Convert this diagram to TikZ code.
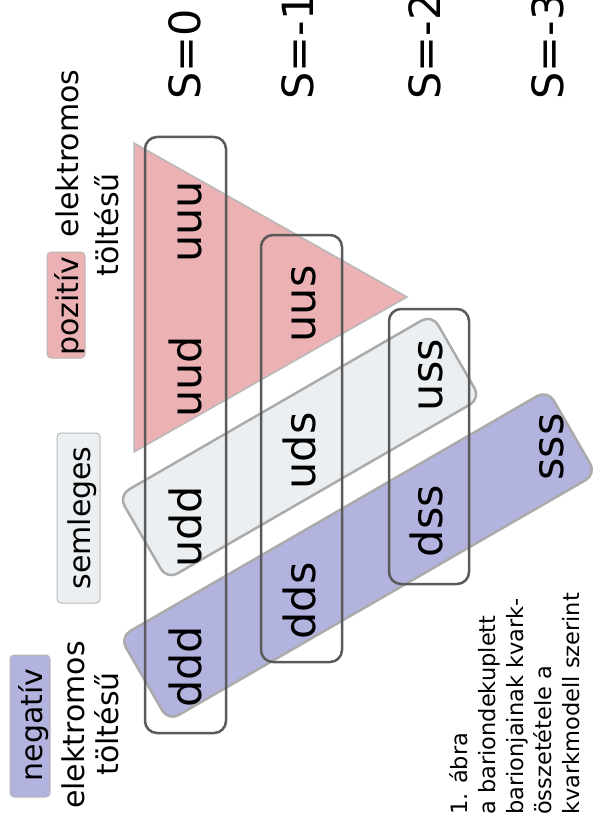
\documentclass[tikz,border=0pt]{standalone}
\usepackage{fontspec}
\setmainfont{DejaVu Sans}
\definecolor{pinkc}{HTML}{EBB1B3}
\definecolor{bluec}{HTML}{B3B3E0}
\definecolor{semc}{HTML}{ECEFF1}
\definecolor{bandgray}{HTML}{ABABAB}
\definecolor{boxgray}{HTML}{5A5A5A}
\definecolor{hlgray}{HTML}{B8B8B8}
\begin{document}
\begin{tikzpicture}[x=1pt,y=-1pt,
  big/.style={font=\fontsize{43}{50}\selectfont, inner sep=0pt, rotate=90, anchor=base},
  slab/.style={font=\fontsize{43}{50}\selectfont, inner sep=0pt, rotate=90, anchor=base west},
  lab/.style={font=\fontsize{30}{36}\selectfont, inner sep=0pt, rotate=90, anchor=base},
  captxt/.style={font=\fontsize{22.5}{28}\selectfont, inner sep=0pt, rotate=90, anchor=base west},
  band/.style={draw=bandgray, line width=2.5pt, rounded corners=12pt, inner sep=0pt, rotate=30},
  qbox/.style={draw=boxgray, line width=2.5pt, rounded corners=12pt, inner sep=0pt},
  hl/.style={draw=hlgray, line width=1pt, rounded corners=4pt, inner sep=0pt, rotate=90}]
\useasboundingbox (0,0) rectangle (598,834);
\clip (0,0) rectangle (598,834);
% triangle (positive charge)
\draw[fill=pinkc, draw=hlgray, line width=1.5pt] (134,143) -- (407,297) -- (134,452) -- cycle;
% bands
\node[band, fill=semc, minimum width=362pt, minimum height=97pt] (semband) at (299.5,447) {};
\node[band, fill=bluec, minimum width=494pt, minimum height=97pt] (negband) at (358,555.5) {};
% strangeness boxes
\node[qbox, minimum width=81pt, minimum height=596pt] (box0) at (185.5,435) {};
\node[qbox, minimum width=81pt, minimum height=427pt] (box1) at (301.5,448.5) {};
\node[qbox, minimum width=80pt, minimum height=275pt] (box2) at (429,446.5) {};
% S labels
\node[slab] (s0) at (200,100) {S=0};
\node[slab] (s1) at (313,100) {S=-1};
\node[slab] (s2) at (440,100) {S=-2};
\node[slab] (s3) at (563,100) {S=-3};
% quark contents
\node[big] (uuu) at (201,222) {uuu};
\node[big] (uud) at (201,377) {uud};
\node[big] (udd) at (201,527) {udd};
\node[big] (ddd) at (201,667) {ddd};
\node[big] (uus) at (315,304) {uus};
\node[big] (uds) at (315,451) {uds};
\node[big] (dds) at (315,601) {dds};
\node[big] (uss) at (442,375) {uss};
\node[big] (dss) at (442,521) {dss};
\node[big] (sss) at (563,447) {sss};
% positive label
\node[hl, fill=pinkc, minimum width=106pt, minimum height=38pt] (pozhl) at (66,305) {};
\node[lab] (poz) at (78,306) {pozitív};
\node[lab] (pozel) at (78,153.5) {elektromos};
\node[lab] (pozto) at (118,225) {töltésű};
% neutral label
\node[hl, fill=semc, minimum width=170pt, minimum height=43pt] (semhl) at (78.5,518) {};
\node[lab] (sem) at (90,518) {semleges};
% negative label
\node[hl, fill=bluec, minimum width=142pt, minimum height=40pt] (neghl) at (30,726) {};
\node[lab] (neg) at (42,725) {negatív};
\node[lab] (negel) at (84,725) {elektromos};
\node[lab] (negto) at (118,724) {töltésű};
% caption
\node[captxt] (c1) at (467,815) {1. ábra};
\node[captxt] (c2) at (495,815) {a bariondekuplett};
\node[captxt] (c3) at (523,815) {barionjainak kvark-};
\node[captxt] (c4) at (551,815) {összetétele a};
\node[captxt] (c5) at (579,815) {kvarkmodell szerint};
\end{tikzpicture}
\end{document}
